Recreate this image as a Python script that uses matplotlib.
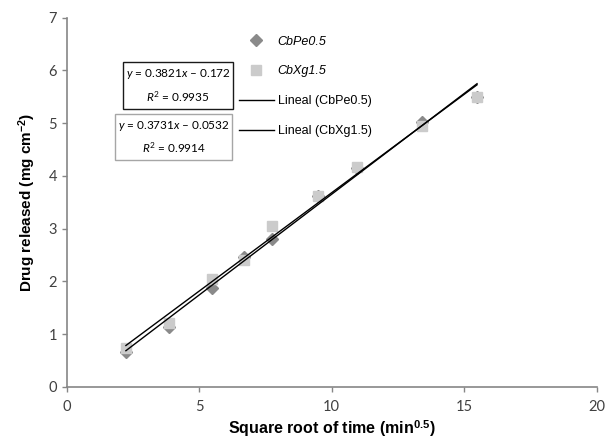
import matplotlib.pyplot as plt
from matplotlib.lines import Line2D
from matplotlib.patches import Rectangle
import numpy as np

plt.rcParams['mathtext.fontset'] = 'custom'
plt.rcParams['mathtext.rm'] = 'Lato'
plt.rcParams['mathtext.it'] = 'Lato:italic'
plt.rcParams['mathtext.bf'] = 'Liberation Sans:bold'

# square root of time (min^0.5)
sqrt_t = [2.24, 3.87, 5.48, 6.71, 7.75, 9.49, 10.95, 13.42, 15.49]
cbpe = [0.66, 1.14, 1.87, 2.46, 2.80, 3.62, 4.14, 5.03, 5.49]
cbxg = [0.73, 1.20, 2.04, 2.40, 3.04, 3.62, 4.17, 4.94, 5.49]

fits = {
	"CbPe0.5": (0.3821, -0.172, "0.9935"),
	"CbXg1.5": (0.3731, -0.0532, "0.9914"),
}

axis_grey = "#868686"
tick_col = "#404040"

fig = plt.figure(figsize=(6.05, 4.41), dpi=100)
ax = fig.add_axes([0.110, 0.123, 0.876, 0.837])

ax.plot(sqrt_t, cbpe, linestyle="none", marker="D", markersize=6.5, color="#8a8a8a", zorder=3)
ax.plot(sqrt_t, cbxg, linestyle="none", marker="s", markersize=6.5, color="#cbcbcb", zorder=3)

xs = np.array([min(sqrt_t), max(sqrt_t)])
for name, (m, b, r2) in fits.items():
	ax.plot(xs, m*xs + b, color="black", lw=1.0, zorder=4)

ax.set_xlim(0, 20)
ax.set_ylim(0, 7)
ax.set_xticks(range(0, 21, 5))
ax.set_yticks(range(0, 8))
for s in ["top", "right"]:
	ax.spines[s].set_visible(False)
for s in ["left", "bottom"]:
	ax.spines[s].set_color(axis_grey)
	ax.spines[s].set_linewidth(1.2)
ax.tick_params(direction="out", length=3.5, width=1, color=axis_grey, labelcolor=tick_col, labelsize=10.5)
for lab in ax.get_xticklabels() + ax.get_yticklabels():
	lab.set_family("Lato")
ax.tick_params(axis="x", pad=6)

ax.set_xlabel("Square root of time (min$^{\\mathbf{0.5}}$)", fontsize=11.5, fontweight="bold",
	family="Liberation Sans", labelpad=3)
ax.set_ylabel("Drug released (mg cm$^{\\mathbf{-2}}$)", fontsize=11, fontweight="bold",
	family="Liberation Sans", labelpad=7)

handles = [
	Line2D([], [], linestyle="none", marker="D", markersize=6.5, color="#8a8a8a"),
	Line2D([], [], linestyle="none", marker="s", markersize=6.5, color="#cbcbcb"),
	Line2D([], [], color="black", lw=1.0),
	Line2D([], [], color="black", lw=1.0),
]
labels = ["CbPe0.5", "CbXg1.5", "Lineal (CbPe0.5)", "Lineal (CbXg1.5)"]
leg = ax.legend(handles, labels, loc="upper left", bbox_to_anchor=(0.395, 0.919),
	bbox_transform=fig.transFigure, frameon=False, prop={"family": "Liberation Sans", "size": 9},
	handlelength=2.8, handletextpad=0.3, labelspacing=1.42, borderpad=0, borderaxespad=0)
for t in leg.get_texts()[:2]:
	t.set_style("italic")

# equation boxes (figure fractions)
box_pos = [
	(0.2033, 0.7528, 0.1818, 0.1066, "#1a1a1a"),
	(0.1901, 0.6372, 0.1934, 0.1043, "#a6a6a6"),
]
for (name, (m, b, r2)), (bx, by, bw, bh, ec) in zip(fits.items(), box_pos):
	fig.patches.append(Rectangle((bx, by), bw, bh, transform=fig.transFigure,
		fc="white", ec=ec, lw=1.0, zorder=5))
	sign = "\u2013" if b < 0 else "+"
	txt = "$y$ = %.4f$x$ %s %g\n$R^2$ = %s" % (m, sign, abs(b), r2)
	fig.text(bx + bw/2, by + bh/2, txt, ha="center", va="center", fontsize=8.5, family="Lato",
		linespacing=1.65, multialignment="center", zorder=6)

fig.savefig("out.png", dpi=100)
